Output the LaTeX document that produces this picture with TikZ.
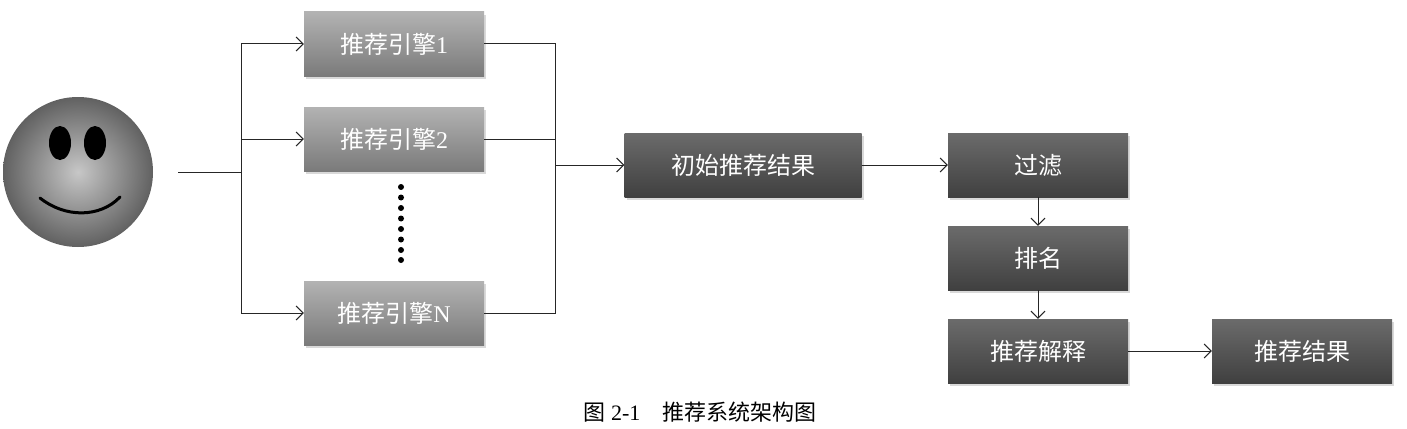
\documentclass[tikz,border=0pt]{standalone}
\usepackage{fontspec}
\setmainfont{Liberation Serif}
\newfontfamily\cjk{Noto Sans CJK SC}
\usetikzlibrary{shadows,arrows.meta}
\begin{document}
\begin{tikzpicture}[x=1pt,y=-1pt,
  lightbox/.style={minimum width=180pt,minimum height=64pt,inner sep=0pt,top color=black!30,bottom color=black!52,text=white,font=\cjk\fontsize{24}{26}\selectfont,drop shadow={shadow xshift=2pt,shadow yshift=-3pt,opacity=0.3}},
  darkbox/.style={lightbox,top color=black!58,bottom color=black!75},
  arr/.style={-{Straight Barb[length=7pt,width=14pt]},line width=1pt,black!85},
  ln/.style={line width=1pt,black!85}]
\useasboundingbox (0,0) rectangle (1407,428);
% smiley
\shade[inner color=black!22,outer color=black!62] (78,172) circle (75);
\node (face) [circle,minimum size=150pt,inner sep=0pt] at (78,172) {};
\fill[black] (60,143) ellipse (11 and 17);
\fill[black] (95,143) ellipse (11 and 17);
\draw[line width=3pt,line cap=round] (40,198) .. controls (65,218) and (100,218) .. (120,197);
% boxes
\node[lightbox] (e1) at (394,44) {推荐引擎\rmfamily 1};
\node[lightbox] (e2) at (394,139) {推荐引擎\rmfamily 2};
\node[lightbox] (en) at (394,313) {推荐引擎\rmfamily N};
\foreach \y in {187,197.5,208,218.5,229,239.5,250,260} \fill (401,\y) circle (3);
\node[darkbox,minimum width=237pt] (init) at (743,165) {初始推荐结果};
\node[darkbox] (f) at (1038,165) {过滤};
\node[darkbox] (r) at (1038,258) {排名};
\node[darkbox] (x) at (1038,351) {推荐解释};
\node[darkbox] (res) at (1302,351) {推荐结果};
% connectors
\coordinate (s) at (178,172);
\coordinate (b1) at (241,172);
\coordinate (b1t) at (241,44);
\coordinate (b1b) at (241,313);
\draw[ln] (s) -- (b1);
\draw[ln] (b1t) -- (b1b);
\draw[arr] (b1t) -- (e1.west);
\draw[arr] (241,139) -- (e2.west);
\draw[arr] (b1b) -- (en.west);
\draw[ln] (e1.east) -| (555,165);
\draw[ln] (e2.east) -| (555,165);
\draw[ln] (en.east) -| (555,165);
\draw[arr] (555,165) -- (init.west);
\draw[arr] (init) -- (f);
\draw[arr] (f) -- (r);
\draw[arr] (r) -- (x);
\draw[arr] (x) -- (res);
% caption
\node[anchor=north,font=\cjk\fontsize{22}{24}\selectfont] (cap) at (700,398) {图\rmfamily\ 2-1\quad\cjk 推荐系统架构图};
\end{tikzpicture}
\end{document}
